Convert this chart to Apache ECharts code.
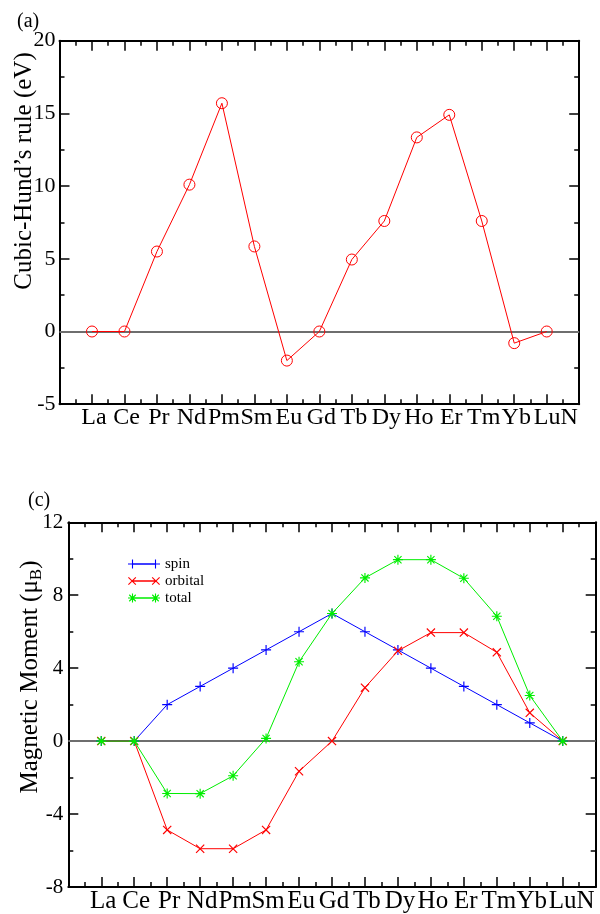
<!DOCTYPE html>
<html><head><meta charset="utf-8">
<script src="https://cdn.jsdelivr.net/npm/echarts@6/dist/echarts.min.js"></script>
<style>html,body{margin:0;padding:0;background:#fff}#c{width:600px;height:914px}</style>
</head><body><div id="c"></div>
<script>
// ---------- data ----------
const categories = ['La','Ce','Pr','Nd','Pm','Sm','Eu','Gd','Tb','Dy','Ho','Er','Tm','Yb','LuN'];
const hundValues = [0, 0, 5.5, 10.1, 15.7, 5.85, -2.0, 0, 4.95, 7.6, 13.35, 14.9, 7.6, -0.8, 0];
const spinValues = [0, 0, 2, 3, 4, 5, 6, 7, 6, 5, 4, 3, 2, 1, 0];
const orbitalValues = [0, 0, -4.87, -5.9, -5.9, -4.87, -1.65, 0, 2.93, 4.95, 5.95, 5.95, 4.87, 1.55, 0];
const totalValues = [0, 0, -2.87, -2.88, -1.9, 0.15, 4.35, 7.0, 8.95, 9.95, 9.95, 8.93, 6.85, 2.5, 0];
const topYTicks = [-5, 0, 5, 10, 15, 20];
const bottomYTicks = [-8, -4, 0, 4, 8, 12];
const seriesNames = ['spin', 'orbital', 'total'];

// ---------- styling helpers ----------
const SERIF = '"Liberation Serif", "DejaVu Serif", serif';
function plusPath(cx, cy, r, t) {
  const h = t / 2;
  return `M${cx-h},${cy-r}H${cx+h}V${cy-h}H${cx+r}V${cy+h}H${cx+h}V${cy+r}H${cx-h}V${cy+h}H${cx-r}V${cy-h}H${cx-h}Z`;
}
function barPath(x1, y1, x2, y2, t) {
  const dx = x2 - x1, dy = y2 - y1, L = Math.hypot(dx, dy);
  const nx = dy / L * t / 2, ny = -dx / L * t / 2;
  const p = [[x1+nx, y1+ny], [x2+nx, y2+ny], [x2-nx, y2-ny], [x1-nx, y1-ny]];
  return 'M' + p.map(q => q[0].toFixed(3) + ',' + q[1].toFixed(3)).join('L') + 'Z';
}
function crossPath(cx, cy, r, t) {
  const a = r * 0.8;
  return barPath(cx-a, cy-a, cx+a, cy+a, t) + barPath(cx+a, cy-a, cx-a, cy+a, t);
}
function starPath(cx, cy, r, t) {
  const a = r * 0.72;
  return plusPath(cx, cy, r, t) + barPath(cx-a, cy-a, cx+a, cy+a, t) + barPath(cx+a, cy-a, cx-a, cy+a, t);
}
const shapeFns = { spin: plusPath, orbital: crossPath, total: starPath };
function symbolOf(name) { return 'path://' + shapeFns[name](10, 10, 10, 2.3); }
function legendIconOf(name) {
  const f = shapeFns[name];
  return 'path://' + f(4.5, 4.5, 4.5, 1.1) + f(27.5, 4.5, 4.5, 1.1) + 'M4.5,3.8H27.5V5.2H4.5Z';
}
const colors = { spin: '#0000ff', orbital: '#ff0000', total: '#00ee00' };
const valuesOf = { spin: spinValues, orbital: orbitalValues, total: totalValues };

const lastIdx = categories.length - 1;
function xLabel(v) {
  const i = Math.round(v);
  if (Math.abs(v - i) > 1e-6 || i < 0 || i > lastIdx) return '';
  return (i === lastIdx ? '{n|' : '{c|') + categories[i] + '}';
}
function xRich(fs) {
  return {
    c: { fontFamily: SERIF, fontSize: fs, color: '#000', padding: [0, 0, 0, 4] },
    n: { fontFamily: SERIF, fontSize: fs, color: '#000', padding: [0, 0, 0, 18] }
  };
}

function xAxisDef(gridIndex, position, showLabel, fs) {
  return {
    type: 'value', gridIndex, position, min: -1, max: lastIdx + 1, interval: 1,
    axisLine: { show: true, onZero: false, lineStyle: { color: '#000', width: 2 } },
    axisTick: { show: true, inside: true, length: 10, lineStyle: { color: '#000', width: 1.5 } },
    minorTick: { show: true, splitNumber: 2, length: 5, lineStyle: { color: '#000', width: 1.5 } },
    splitLine: { show: false }, minorSplitLine: { show: false },
    axisLabel: { show: showLabel, formatter: xLabel, rich: xRich(fs), margin: 2 }
  };
}
function yAxisDef(gridIndex, position, ticks, showLabel, fontSize, margin) {
  return {
    type: 'value', gridIndex, position, min: ticks[0], max: ticks[ticks.length - 1],
    interval: ticks[1] - ticks[0],
    axisLine: { show: true, onZero: false, lineStyle: { color: '#000', width: 2 } },
    axisTick: { show: true, inside: true, length: 10, lineStyle: { color: '#000', width: 1.5 } },
    minorTick: { show: true, splitNumber: 2, length: 5, lineStyle: { color: '#000', width: 1.5 } },
    splitLine: { show: false }, minorSplitLine: { show: false },
    axisLabel: { show: showLabel, fontFamily: SERIF, fontSize, color: '#000', margin }
  };
}
const zeroLine = {
  silent: true, symbol: ['none', 'none'], z: 1, animation: false,
  label: { show: false },
  lineStyle: { color: '#6e6e6e', width: 2, type: 'solid' },
  data: [{ yAxis: 0 }]
};

const series = [{
  type: 'line', name: 'hund', xAxisIndex: 0, yAxisIndex: 0,
  data: hundValues.map((v, i) => [i, v]),
  symbol: 'circle', symbolSize: 11,
  itemStyle: { color: 'rgba(0,0,0,0)', borderColor: '#ff0000', borderWidth: 1 },
  lineStyle: { color: '#ff0000', width: 1 },
  markLine: zeroLine, z: 3
}];
seriesNames.forEach((name, k) => {
  const s = {
    type: 'line', name, xAxisIndex: 2, yAxisIndex: 2,
    data: valuesOf[name].map((v, i) => [i, v]),
    symbol: symbolOf(name), symbolSize: name === 'orbital' ? 9 : 10,
    itemStyle: { color: colors[name], borderWidth: 0 },
    lineStyle: { color: colors[name], width: 1 },
    z: 3 + k
  };
  if (k === 0) s.markLine = zeroLine;
  series.push(s);
});

const chart = echarts.init(document.getElementById('c'), null, { renderer: 'canvas' });
chart.setOption({
  animation: false,
  backgroundColor: '#fff',
  grid: [
    { left: 59.5, right: 20.8, top: 40.7, height: 363.5 },
    { left: 68.3, right: 4.3, top: 522.3, height: 367.7 }
  ],
  xAxis: [
    xAxisDef(0, 'bottom', true, 24), xAxisDef(0, 'top', false, 24),
    xAxisDef(1, 'bottom', true, 25), xAxisDef(1, 'top', false, 25)
  ],
  yAxis: [
    yAxisDef(0, 'left', topYTicks, true, 22, 4), yAxisDef(0, 'right', topYTicks, false, 22, 4),
    yAxisDef(1, 'left', bottomYTicks, true, 21, 5), yAxisDef(1, 'right', bottomYTicks, false, 21, 5)
  ],
  legend: {
    left: 123, top: 550.5, orient: 'vertical', itemWidth: 32, itemHeight: 9, itemGap: 0,
    selectedMode: false,
    itemStyle: { borderWidth: 0 },
    textStyle: { fontFamily: SERIF, fontSize: 15, color: '#000', lineHeight: 17 },
    data: seriesNames.map(n => ({ name: n, icon: legendIconOf(n) }))
  },
  graphic: [
    { type: 'text', x: 17, y: 22, style: { text: '(a)', fontFamily: SERIF, fontSize: 20, fill: '#000', verticalAlign: 'middle' } },
    { type: 'text', x: 28, y: 501, style: { text: '(c)', fontFamily: SERIF, fontSize: 20, fill: '#000', verticalAlign: 'middle' } },
    { type: 'text', x: 24, y: 171, rotation: Math.PI / 2,
      style: { text: 'Cubic-Hund\u2019s rule (eV)', fontFamily: SERIF, fontSize: 25, fill: '#000', align: 'center', verticalAlign: 'middle' } },
    { type: 'text', x: 30, y: 677, rotation: Math.PI / 2,
      style: { text: 'Magnetic Moment (\u03bc{s|B})', fontFamily: SERIF, fontSize: 25, fill: '#000', align: 'center', verticalAlign: 'middle',
        rich: { s: { fontFamily: SERIF, fontSize: 17, fill: '#000', padding: [14, 0, 0, 0] } } } }
  ],
  series
});
</script></body></html>
